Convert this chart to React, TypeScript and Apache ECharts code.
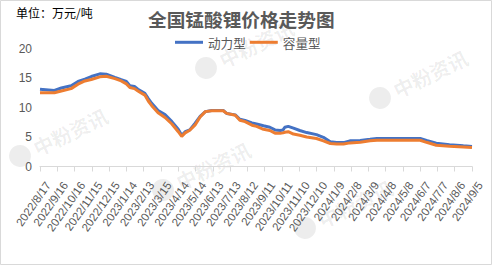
import React, { useEffect, useRef } from "react";
import * as echarts from "echarts";

const title = "全国锰酸锂价格走势图";
const unitLabel = "单位：万元/吨";
const seriesNames = ["动力型", "容量型"];

const dates = [
  "2022-08-17", "2022-09-11", "2022-09-23", "2022-10-10", "2022-10-22", "2022-11-03",
  "2022-11-14", "2022-11-29", "2022-12-10", "2022-12-25", "2023-01-05", "2023-01-14",
  "2023-01-20", "2023-01-28", "2023-02-03", "2023-02-15", "2023-02-21", "2023-02-27",
  "2023-03-10", "2023-03-22", "2023-04-03", "2023-04-14", "2023-04-20", "2023-04-26",
  "2023-05-04", "2023-05-13", "2023-05-22", "2023-05-31", "2023-06-11", "2023-07-01",
  "2023-07-07", "2023-07-22", "2023-07-30", "2023-08-08", "2023-08-20", "2023-08-28",
  "2023-09-09", "2023-09-20", "2023-09-29", "2023-10-08", "2023-10-13", "2023-10-16",
  "2023-10-22", "2023-10-31", "2023-11-11", "2023-11-23", "2023-12-10", "2023-12-22",
  "2024-01-03", "2024-01-14", "2024-01-26", "2024-02-06", "2024-02-24", "2024-03-12",
  "2024-03-24", "2024-04-16", "2024-06-07", "2024-06-18", "2024-07-05", "2024-07-28",
  "2024-08-21", "2024-09-05",
];

// 动力型
const powerType = [
  13.1, 12.9, 13.3, 13.7, 14.4, 14.8,
  15.25, 15.7, 15.65, 15.1, 14.7, 14.4,
  13.7, 13.55, 13.1, 12.4, 11.5, 10.7,
  9.5, 8.8, 7.6, 6.3, 5.3, 5.9,
  6.2, 7.3, 8.5, 9.3, 9.5, 9.5,
  9.0, 8.75, 8.0, 7.8, 7.4, 7.2,
  6.9, 6.65, 6.2, 6.1, 6.2, 6.65,
  6.8, 6.5, 6.1, 5.75, 5.4, 4.95,
  4.2, 4.05, 4.05, 4.35, 4.4, 4.6,
  4.75, 4.75, 4.75, 4.4, 3.95, 3.7,
  3.5, 3.4,
];

// 容量型
const capacityType = [
  12.5, 12.5, 12.8, 13.2, 13.95, 14.5,
  14.75, 15.2, 15.3, 14.9, 14.5, 14.0,
  13.4, 13.2, 12.8, 12.1, 11.1, 10.3,
  9.1, 8.3, 7.2, 5.9, 5.1, 5.7,
  6.15, 7.0, 8.4, 9.3, 9.45, 9.45,
  9.0, 8.7, 7.85, 7.6, 7.0, 6.8,
  6.3, 6.1, 5.65, 5.65, 5.7, 5.8,
  5.9, 5.5, 5.3, 5.0, 4.75, 4.35,
  3.9, 3.8, 3.8, 4.0, 4.1, 4.35,
  4.45, 4.45, 4.45, 4.1, 3.6, 3.45,
  3.3, 3.2,
];

const xTickLabels = [
  "2022/8/17", "2022/9/16", "2022/10/16", "2022/11/15", "2022/12/15", "2023/1/14",
  "2023/2/13", "2023/3/15", "2023/4/14", "2023/5/14", "2023/6/13", "2023/7/13",
  "2023/8/12", "2023/9/11", "2023/10/11", "2023/11/10", "2023/12/10", "2024/1/9",
  "2024/2/8", "2024/3/9", "2024/4/8", "2024/5/8", "2024/6/7", "2024/7/7",
  "2024/8/6", "2024/9/5",
];
const tickStepDays = 30;
const yTicks = [0, 5, 10, 15, 20];

const startDate = "2022-08-17";

function dayIndex(s: string): number {
  const [y, m, d] = s.split("-").map(Number);
  const [y0, m0, d0] = startDate.split("-").map(Number);
  return Math.round((Date.UTC(y, m - 1, d) - Date.UTC(y0, m0 - 1, d0)) / 86400000);
}

const watermarkSpots = [
  [206, 68], [380, 98], [20, 156], [163, 190], [305, 228],
];

export default function App() {
  const ref = useRef<HTMLDivElement>(null);
  useEffect(() => {
    if (!ref.current) return;
    const chart = echarts.init(ref.current, undefined, { renderer: "svg" });
    const xMax = (xTickLabels.length - 1) * tickStepDays;
    const wm: any[] = watermarkSpots.map(([x, y]) => ({
      type: "group",
      x,
      y,
      rotation: 0.45,
      z: -10,
      silent: true,
      children: [
        { type: "circle", shape: { cx: 0, cy: 0, r: 11 }, style: { fill: "rgba(0,0,0,0.07)" } },
        {
          type: "text",
          x: 16,
          y: 0,
          style: {
            text: "中粉资讯",
            fill: "rgba(0,0,0,0.07)",
            font: "bold 20px 'Noto Sans CJK SC'",
            verticalAlign: "middle",
          },
        },
      ],
    }));
    chart.setOption({
      animation: false,
      backgroundColor: "#ffffff",
      title: {
        text: title,
        left: 148,
        top: 9,
        padding: 0,
        textStyle: {
          color: "#595959",
          fontSize: 18.67,
          fontWeight: "bold",
          fontFamily: "'Noto Sans CJK SC', sans-serif",
        },
      },
      legend: {
        data: seriesNames,
        left: 175,
        top: 36,
        padding: 0,
        itemGap: 4,
        itemWidth: 28,
        itemHeight: 3,
        icon: "rect",
        textStyle: {
          color: "#595959",
          fontSize: 12.6,
          fontFamily: "'Noto Sans CJK SC', sans-serif",
        },
      },
      graphic: [
        ...wm,
        {
          type: "text",
          left: 16,
          top: 6,
          style: {
            text: unitLabel,
            fill: "#000000",
            font: "12px 'Noto Sans CJK SC', sans-serif",
          },
        },
        {
          type: "rect",
          shape: { x: 0.5, y: 0.5, width: 491, height: 264 },
          style: { fill: "none", stroke: "#D9D9D9", lineWidth: 1 },
          silent: true,
        },
      ],
      grid: { left: 40, right: 21, top: 48.5, bottom: 99.5 },
      xAxis: {
        type: "value",
        min: 0,
        max: xMax,
        interval: tickStepDays,
        splitLine: { show: false },
        axisLine: { lineStyle: { color: "#D9D9D9", width: 1 } },
        axisTick: { show: true, length: 5, lineStyle: { color: "#D9D9D9" } },
        axisLabel: {
          rotate: 55,
          margin: 28,
          padding: [0, -14, 0, 0],
          color: "#595959",
          fontSize: 11.5,
          fontFamily: "'Liberation Sans', sans-serif",
          showMinLabel: true,
          showMaxLabel: true,
          formatter: (v: number) => xTickLabels[Math.round(v / tickStepDays)] ?? "",
        },
      },
      yAxis: {
        type: "value",
        min: yTicks[0],
        max: yTicks[yTicks.length - 1],
        interval: yTicks[1] - yTicks[0],
        axisLine: { show: false },
        axisTick: { show: false },
        splitLine: { show: false },
        axisLabel: {
          color: "#595959",
          fontSize: 12,
          margin: 8,
          fontFamily: "'Liberation Sans', sans-serif",
        },
      },
      series: [
        {
          name: seriesNames[0],
          type: "line",
          showSymbol: false,
          data: dates.map((d, i) => [dayIndex(d), powerType[i]]),
          lineStyle: { width: 3, color: "#4472C4" },
          itemStyle: { color: "#4472C4" },
          z: 2,
        },
        {
          name: seriesNames[1],
          type: "line",
          showSymbol: false,
          data: dates.map((d, i) => [dayIndex(d), capacityType[i]]),
          lineStyle: { width: 3, color: "#ED7D31" },
          itemStyle: { color: "#ED7D31" },
          z: 3,
        },
      ],
    });
    return () => chart.dispose();
  }, []);
  return (
    <div
      ref={ref}
      style={{ position: "absolute", left: 0, top: 0, width: 493, height: 266 }}
    />
  );
}
